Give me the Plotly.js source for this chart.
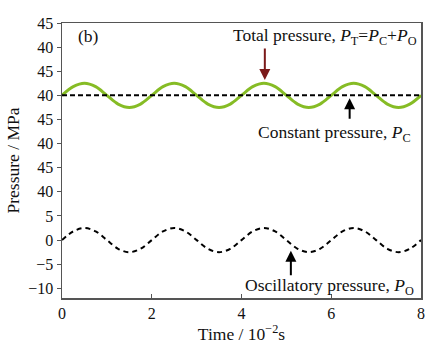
<!DOCTYPE html>
<html>
<head>
<meta charset="utf-8">
<script src="https://cdn.plot.ly/plotly-3.0.1.min.js"></script>
<style>html,body{margin:0;padding:0;background:#fff;}#chart{width:441px;height:352px;}</style>
</head>
<body>
<div id="chart"></div>
<script>
// Time (10^-2 s)
const time = [0,0.25,0.5,0.75,1,1.25,1.5,1.75,2,2.25,2.5,2.75,3,3.25,3.5,3.75,4,4.25,4.5,4.75,5,5.25,5.5,5.75,6,6.25,6.5,6.75,7,7.25,7.5,7.75,8];
// Oscillatory pressure P_O (MPa)
const oscPressure = [0,1.8,2.5,1.8,0,-1.8,-2.5,-1.8,0,1.8,2.5,1.8,0,-1.8,-2.5,-1.8,0,1.8,2.5,1.8,0,-1.8,-2.5,-1.8,0,1.8,2.5,1.8,0,-1.8,-2.5,-1.8,0];
// Total pressure P_T (MPa)
const totalPressure = [40,41.8,42.5,41.8,40,38.2,37.5,38.2,40,41.8,42.5,41.8,40,38.2,37.5,38.2,40,41.8,42.5,41.8,40,38.2,37.5,38.2,40,41.8,42.5,41.8,40,38.2,37.5,38.2,40];
// Constant pressure P_C (MPa)
const constTime = [0, 8];
const constPressure = [40, 40];
// Y tick labels (broken axis as in source)
const yTickVals = [45,40,35,30,25,20,15,10,5,0,-5,-10];
const yTickText = ['45','40','45','40','45','40','45','40','5','0','\u22125','\u221210'];
const xTickVals = [0,2,4,6,8];

const FONT = 'Liberation Serif, Times New Roman, serif';
const green = '#86bc25';
const txt = '#111';

const traces = [
  {x: time, y: totalPressure, yaxis: 'y2', mode: 'lines', line: {color: green, width: 3, shape: 'spline'}, hoverinfo: 'skip'},
  {x: constTime, y: constPressure, yaxis: 'y2', mode: 'lines', line: {color: '#000', width: 2, dash: '5px,3px'}, hoverinfo: 'skip'},
  {x: time, y: oscPressure, mode: 'lines', line: {color: '#000', width: 2, dash: '5px,4px', shape: 'spline'}, hoverinfo: 'skip'}
];

const axisColor = '#555';
const layout = {
  width: 441, height: 352,
  margin: {l: 62, r: 20, t: 23, b: 54},
  showlegend: false,
  paper_bgcolor: '#fff', plot_bgcolor: '#fff',
  font: {family: FONT, size: 16, color: txt},
  xaxis: {
    range: [0, 8], tickvals: xTickVals, ticks: 'inside', ticklen: 4, tickcolor: axisColor,
    showline: true, linecolor: axisColor, linewidth: 1.5, mirror: true, showgrid: false, zeroline: false,
    tickfont: {family: FONT, size: 16, color: txt},
    title: {text: 'Time / 10<sup>\u22122</sup>s', font: {family: FONT, size: 17.5, color: txt}, standoff: 4}
  },
  yaxis: {
    range: [-12, 45], tickvals: yTickVals, ticktext: yTickText, ticks: 'outside', ticklen: 4, tickcolor: axisColor,
    showline: true, linecolor: axisColor, linewidth: 1.5, mirror: true, showgrid: false, zeroline: false,
    tickfont: {family: FONT, size: 16, color: txt},
    title: {text: 'Pressure / MPa', font: {family: FONT, size: 17.5, color: txt}, standoff: 4}
  },
  yaxis2: {
    range: [-2, 55], overlaying: 'y', visible: false, showgrid: false, zeroline: false
  },
  annotations: [
    {x: 0.58, y: 42.3, xref: 'x', yref: 'y', text: '(b)', showarrow: false, font: {family: FONT, size: 17.5, color: txt}},
    {x: 5.86, y: 42.3, xref: 'x', yref: 'y', text: 'Total pressure, <i>P</i><sub>T</sub>=<i>P</i><sub>C</sub>+<i>P</i><sub>O</sub>', showarrow: false, font: {family: FONT, size: 17.5, color: txt}},
    {x: 4.52, y: 43.2, xref: 'x', yref: 'y2', text: '', showarrow: true, ax: 0, ay: -33, arrowhead: 2, arrowsize: 1.1, arrowwidth: 2, arrowcolor: '#7b1a1a'},
    {x: 6.08, y: 22.2, xref: 'x', yref: 'y', text: 'Constant pressure, <i>P</i><sub>C</sub>', showarrow: false, font: {family: FONT, size: 17.5, color: txt}},
    {x: 6.41, y: 39.4, xref: 'x', yref: 'y2', text: '', showarrow: true, ax: 0, ay: 22, arrowhead: 2, arrowsize: 1.1, arrowwidth: 2, arrowcolor: '#000'},
    {x: 5.97, y: -9.6, xref: 'x', yref: 'y', text: 'Oscillatory pressure, <i>P</i><sub>O</sub>', showarrow: false, font: {family: FONT, size: 17.5, color: txt}},
    {x: 5.1, y: -2.2, xref: 'x', yref: 'y', text: '', showarrow: true, ax: 0, ay: 26, arrowhead: 2, arrowsize: 1.1, arrowwidth: 2, arrowcolor: '#000'}
  ]
};

Plotly.newPlot('chart', traces, layout, {staticPlot: true, displayModeBar: false});
</script>
</body>
</html>
